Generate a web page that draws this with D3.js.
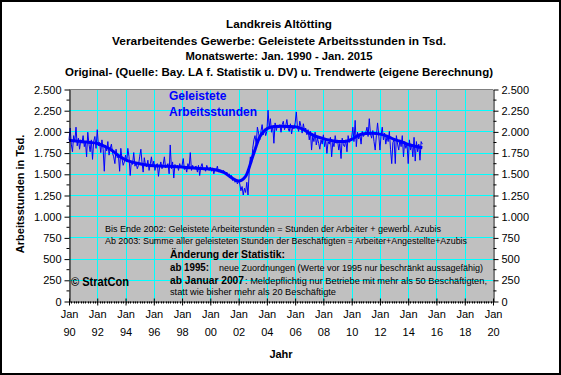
<!DOCTYPE html>
<html>
<head>
<meta charset="utf-8">
<script src="https://cdn.jsdelivr.net/npm/d3@7"></script>
<style>
  body { margin: 0; background: #fff; }
  svg { display: block; font-family: "Liberation Sans", Arial, sans-serif; }
</style>
</head>
<body>
<div id="chart"></div>
<script>
// monthly values Jan 1990 .. Dec 1999 (Tsd. Arbeitsstunden)
var hours1990s = [
  1900, 2040, 1850, 1760, 1950, 1880, 2050, 1830, 1920, 1790, 1900, 1860,
  1950, 1820, 1880, 1700, 1990, 1850, 1760, 1900, 1670, 1880, 1940, 1800,
  2020, 1830, 1870, 1750, 1900, 1790, 1530, 1840, 1770, 1880, 1720, 1800,
  1850, 1740, 1700, 1620, 1790, 1690, 1720, 1530, 1800, 1680, 1600, 1640,
  1720, 1640, 1800, 1700, 1480, 1650, 1610, 1750, 1590, 1630, 1560, 1600,
  1700, 1790, 1640, 1520, 1690, 1600, 1580, 1660, 1540, 1610, 1700, 1580,
  1650, 1540, 1600, 1620, 1470, 1580, 1640, 1560, 1610, 1700, 1570, 1590,
  1620, 1500, 1840, 1560, 1640, 1450, 1610, 1580, 1600, 1540, 1620, 1570,
  1600, 1680, 1550, 1580, 1520, 1620, 1570, 1750, 1540, 1600, 1560, 1580,
  1590, 1520, 1600, 1480, 1580, 1620, 1550, 1570, 1530, 1600, 1560, 1540
];
// Jan 2000 .. Dec 2009
var hours2000s = [
  1580, 1530, 1570, 1500, 1560, 1540, 1590, 1520, 1550, 1530, 1510, 1540,
  1530, 1490, 1520, 1480, 1500, 1460, 1480, 1420, 1450, 1400, 1430, 1380,
  1420, 1380, 1300, 1350, 1250, 1330, 1280, 1400, 1250, 1520, 1700, 1620,
  1800, 1900, 1950, 1850, 2050, 1980, 1900, 2000, 2080, 1960, 2030, 1950,
  2000, 2250, 2050, 2150, 1990, 2060, 1860, 2100, 2010, 2070, 2040, 2080,
  1990, 2080, 2120, 2020, 2060, 2140, 2040, 2000, 2090, 1970, 2060, 2030,
  2100, 2230, 2050, 2000, 2120, 2060, 1980, 2090, 2010, 2040, 1960, 2020,
  1900, 2000, 1780, 1950, 1880, 1990, 1840, 1920, 1860, 1790, 1900, 1850,
  1960, 1820, 1900, 1740, 1880, 1850, 1930, 1700, 1870, 1820, 1950, 1860,
  1900, 1780, 1860, 1680, 1920, 1840, 1820, 1900, 1760, 1950, 1870, 1900
];
// Jan 2010 .. Jan 2015
var hours2010s = [
  1930, 2050, 1880, 2130, 1820, 1990, 1910, 1960, 1850, 2000, 1940, 1970,
  1990, 2050, 1940, 2150, 1970, 1920, 2010, 1880, 1780, 1950, 2100, 1960,
  1780, 1960, 2050, 1900, 1980, 1850, 1940, 1880, 2000, 1790, 1620, 1870,
  1900, 1620, 1950, 1850, 1780, 1900, 1820, 1950, 1700, 1880, 1800, 1850,
  1620, 1900, 1780, 1850, 1700, 1930, 1650, 1880, 1760, 1850, 1660, 1880,
  1850
];

// trend (eigene Berechnung), half-yearly reading
var trendDates = [
  1990.0, 1990.5, 1991.0, 1991.5, 1992.0, 1992.5, 1993.0, 1993.5, 1994.0, 1994.5,
  1995.0, 1995.5, 1996.0, 1996.5, 1997.0, 1997.5, 1998.0, 1998.5, 1999.0, 1999.5,
  2000.0, 2000.5, 2001.0, 2001.5, 2002.0, 2002.5, 2003.0, 2003.5, 2004.0, 2004.5,
  2005.0, 2005.5, 2006.0, 2006.5, 2007.0, 2007.5, 2008.0, 2008.5, 2009.0, 2009.5,
  2010.0, 2010.5, 2011.0, 2011.5, 2012.0, 2012.5, 2013.0, 2013.5, 2014.0, 2014.5,
  2015.0
];
var trendValues = [
  1896, 1888, 1878, 1870, 1858, 1825, 1781, 1715, 1665, 1638,
  1619, 1605, 1596, 1591, 1588, 1584, 1580, 1572, 1565, 1561,
  1558, 1542, 1512, 1455, 1415, 1470, 1704, 1935, 2030, 2057,
  2060, 2058, 2055, 2030, 1980, 1940, 1915, 1895, 1880, 1880,
  1905, 1955, 1975, 1978, 1968, 1945, 1905, 1880, 1845, 1825,
  1808
];

var yTicks = [0, 250, 500, 750, 1000, 1250, 1500, 1750, 2000, 2250, 2500];
var xTickYears = [1990, 1992, 1994, 1996, 1998, 2000, 2002, 2004, 2006, 2008, 2010, 2012, 2014, 2016, 2018, 2020];

var titleLines = [
  "Landkreis Altötting",
  "Verarbeitendes Gewerbe: Geleistete Arbeitsstunden in Tsd.",
  "Monatswerte: Jan. 1990 - Jan. 2015",
  "Original- (Quelle: Bay. LA f. Statistik u. DV) u. Trendwerte (eigene Berechnung)"
];
var titleWidths = [106, 334, 187, 428];

var w = 561, h = 375;
var pLeft = 69, pRight = 493, pTop = 89, pBottom = 301;

var monthly = hours1990s.concat(hours2000s, hours2010s).map(function(v, i) {
  return { date: new Date(1990, i, 1), value: v };
});
var trend = trendDates.map(function(t, i) {
  var yr = Math.floor(t);
  return { date: new Date(yr, Math.round((t - yr) * 12), 1), value: trendValues[i] };
});

var xScale = d3.scaleTime().domain([new Date(1990, 0, 1), new Date(2020, 0, 1)]).range([pLeft, pRight]);
var yScale = d3.scaleLinear().domain([0, 2500]).range([pBottom, pTop]);

var de = d3.formatLocale({ decimal: ",", thousands: ".", grouping: [3], currency: ["", " €"] });
var fmt = de.format(",.0f");

var svg = d3.select("#chart").append("svg")
  .attr("width", w)
  .attr("height", h);

svg.append("rect")
  .attr("x", 0).attr("y", 0).attr("width", w).attr("height", h)
  .attr("fill", "#fff");

// titles
svg.selectAll("text.title")
  .data(titleLines)
  .enter().append("text")
  .attr("class", "title")
  .attr("x", 279)
  .attr("y", function(d, i) { return [28, 45, 60, 76][i]; })
  .attr("text-anchor", "middle")
  .attr("textLength", function(d, i) { return titleWidths[i]; })
  .attr("lengthAdjust", "spacingAndGlyphs")
  .style("font-size", "11.5px")
  .style("font-weight", "bold")
  .text(function(d) { return d; });

// plot area
svg.append("rect")
  .attr("x", pLeft).attr("y", pTop)
  .attr("width", pRight - pLeft).attr("height", pBottom - pTop)
  .attr("fill", "#c0c0c0");

// grid
svg.append("g")
  .selectAll("line")
  .data(yTicks.slice(1, -1))
  .enter().append("line")
  .attr("x1", pLeft).attr("x2", pRight)
  .attr("y1", function(d) { return Math.round(yScale(d)) + 0.5; })
  .attr("y2", function(d) { return Math.round(yScale(d)) + 0.5; })
  .attr("stroke", "#00ffff");

svg.append("g")
  .selectAll("line")
  .data(xTickYears.slice(1, -1))
  .enter().append("line")
  .attr("x1", function(d) { return Math.round(xScale(new Date(d, 0, 1))) + 0.5; })
  .attr("x2", function(d) { return Math.round(xScale(new Date(d, 0, 1))) + 0.5; })
  .attr("y1", pTop).attr("y2", pBottom)
  .attr("stroke", "#00ffff");

svg.append("line")
  .attr("x1", pLeft).attr("x2", pRight)
  .attr("y1", pTop + 0.5).attr("y2", pTop + 0.5)
  .attr("stroke", "#808080");

// annotations inside plot
var note = svg.append("g").style("font-size", "9.5px").attr("fill", "#000");
note.append("text").attr("x", 105).attr("y", 232)
  .attr("textLength", 336).attr("lengthAdjust", "spacingAndGlyphs")
  .text("Bis Ende 2002: Geleistete Arbeiterstunden = Stunden der Arbeiter + gewerbl. Azubis");
note.append("text").attr("x", 105).attr("y", 244)
  .attr("textLength", 362).attr("lengthAdjust", "spacingAndGlyphs")
  .text("Ab 2003: Summe aller geleisteten Stunden der Beschäftigten = Arbeiter+Angestellte+Azubis");
note.append("text").attr("x", 170).attr("y", 258)
  .attr("textLength", 115).attr("lengthAdjust", "spacingAndGlyphs")
  .style("font-weight", "bold").style("font-size", "11px")
  .text("Änderung der Statistik:");
note.append("text").attr("x", 170).attr("y", 271)
  .attr("textLength", 39).attr("lengthAdjust", "spacingAndGlyphs")
  .style("font-weight", "bold").style("font-size", "10.5px")
  .text("ab 1995:");
note.append("text").attr("x", 219).attr("y", 271)
  .attr("textLength", 264).attr("lengthAdjust", "spacingAndGlyphs")
  .text("neue Zuordnungen (Werte vor 1995 nur beschränkt aussagefähig)");
note.append("text").attr("x", 170).attr("y", 284)
  .attr("textLength", 74).attr("lengthAdjust", "spacingAndGlyphs")
  .style("font-weight", "bold").style("font-size", "10.5px")
  .text("ab Januar 2007");
note.append("text").attr("x", 245).attr("y", 284)
  .attr("textLength", 242).attr("lengthAdjust", "spacingAndGlyphs")
  .text(": Meldepflichtig nur Betriebe mit mehr als 50 Beschäftigten,");
note.append("text").attr("x", 170).attr("y", 295)
  .attr("textLength", 166).attr("lengthAdjust", "spacingAndGlyphs")
  .text("statt wie bisher mehr als  20 Beschäftigte");

svg.append("text")
  .attr("x", 71).attr("y", 286)
  .attr("textLength", 58).attr("lengthAdjust", "spacingAndGlyphs")
  .style("font-size", "12px").style("font-weight", "bold")
  .text("© StratCon");

// series
var line = d3.line()
  .x(function(d) { return xScale(d.date); })
  .y(function(d) { return yScale(d.value); });

svg.append("path")
  .datum(monthly)
  .attr("d", line)
  .attr("fill", "none")
  .attr("stroke", "#0000ff")
  .attr("stroke-width", 1);

svg.append("path")
  .datum(trend)
  .attr("d", line.curve(d3.curveMonotoneX))
  .attr("fill", "none")
  .attr("stroke", "#0000ff")
  .attr("stroke-width", 3);

// legend
svg.append("text")
  .attr("x", 169).attr("y", 100)
  .attr("fill", "#0000ff")
  .style("font-size", "12px").style("font-weight", "bold")
  .text("Geleistete");
svg.append("text")
  .attr("x", 169).attr("y", 116)
  .attr("fill", "#0000ff")
  .style("font-size", "12px").style("font-weight", "bold")
  .text("Arbeitsstunden");

// axes
var minorY = d3.range(125, 2500, 250);

var yAxisL = d3.axisLeft(yScale).tickValues(yTicks).tickSize(5).tickSizeOuter(0).tickFormat(fmt);
var gl = svg.append("g").attr("transform", "translate(" + (pLeft + 0.5) + ",0.5)").call(yAxisL);
gl.append("g").selectAll("line").data(minorY).enter().append("line")
  .attr("x1", -3).attr("x2", 0)
  .attr("y1", function(d) { return yScale(d); }).attr("y2", function(d) { return yScale(d); })
  .attr("stroke", "#000");

var yAxisR = d3.axisRight(yScale).tickValues(yTicks).tickSize(5).tickSizeOuter(0).tickFormat(fmt);
var gr = svg.append("g").attr("transform", "translate(" + (pRight + 0.5) + ",0.5)").call(yAxisR);
gr.append("g").selectAll("line").data(minorY).enter().append("line")
  .attr("x1", 0).attr("x2", 3)
  .attr("y1", function(d) { return yScale(d); }).attr("y2", function(d) { return yScale(d); })
  .attr("stroke", "#000");

var xAxis = d3.axisBottom(xScale)
  .tickValues(xTickYears.map(function(y) { return new Date(y, 0, 1); }))
  .tickSize(4).tickSizeOuter(0)
  .tickFormat("");
var gx = svg.append("g").attr("transform", "translate(0," + (pBottom + 0.5) + ")").call(xAxis);
gx.selectAll(".tick line").attr("y1", -3);
gx.append("g").selectAll("line")
  .data(d3.timeMonth.every(2).range(new Date(1990, 0, 1), new Date(2020, 0, 1)))
  .enter().append("line")
  .attr("x1", function(d) { return Math.round(xScale(d)) + 0.5; })
  .attr("x2", function(d) { return Math.round(xScale(d)) + 0.5; })
  .attr("y1", 0).attr("y2", 2)
  .attr("stroke", "#000");

var xl = gx.selectAll(".tick");
xl.append("text").attr("y", 16).attr("fill", "#000").text("Jan");
xl.append("text").attr("y", 34).attr("fill", "#000")
  .text(function(d) { return d3.timeFormat("%y")(d); });

svg.selectAll(".tick text").style("font-size", "11px").style("font-family", "'Liberation Sans', Arial, sans-serif");
gl.selectAll(".tick text").attr("x", -8);
gr.selectAll(".tick text").attr("x", 8);

// axis titles
svg.append("text")
  .attr("x", 281).attr("y", 358)
  .attr("text-anchor", "middle")
  .style("font-size", "11px").style("font-weight", "bold")
  .text("Jahr");

svg.append("text")
  .attr("transform", "translate(24,194) rotate(-90)")
  .attr("text-anchor", "middle")
  .style("font-size", "11px").style("font-weight", "bold")
  .text("Arbeitsstunden in Tsd.");

// outer frame
svg.append("rect")
  .attr("x", 1).attr("y", 1).attr("width", w - 2).attr("height", h - 2)
  .attr("fill", "none").attr("stroke", "#000").attr("stroke-width", 2);
</script>
</body>
</html>
